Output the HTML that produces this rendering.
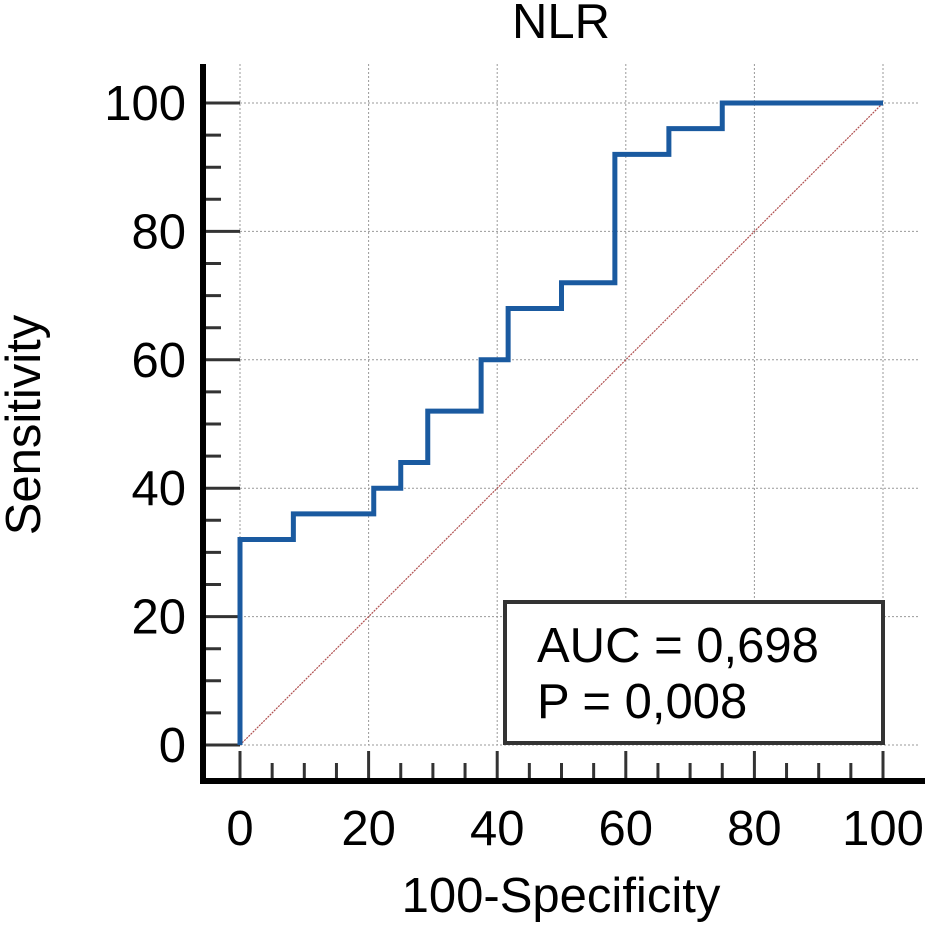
<!DOCTYPE html>
<html><head><meta charset="utf-8"><style>
body{margin:0;background:#fff;}
svg{display:block;font-family:"Liberation Sans",sans-serif;}
</style></head><body>
<svg width="925" height="925" viewBox="0 0 925 925">
<g id="grid"></g>
<g id="ticks"></g>
<line x1="203" y1="64" x2="203" y2="784" stroke="#000" stroke-width="6"/>
<line x1="200" y1="781" x2="925" y2="781" stroke="#000" stroke-width="6"/>
<line id="diag" stroke="#b05050" stroke-width="1.2" stroke-dasharray="2,1"/>
<path id="roc" fill="none" stroke="#1a5aa0" stroke-width="5"/>
<text x="561" y="38" font-size="49" text-anchor="middle">NLR</text>
<text x="561" y="912" font-size="49" text-anchor="middle">100-Specificity</text>
<text transform="translate(40,425) rotate(-90)" font-size="49" text-anchor="middle">Sensitivity</text>
<g>
<rect x="505" y="602" width="378" height="141" fill="#fff" stroke="#333" stroke-width="4"/>
<text x="537" y="662" font-size="49">AUC = 0,698</text>
<text x="537" y="718" font-size="49">P = 0,008</text>
</g>
</svg>
<script>
const rocX=[0,0,8.3,8.3,20.8,20.8,25,25,29.2,29.2,37.5,37.5,41.7,41.7,50,50,58.3,58.3,66.7,66.7,75,75,100];
const rocY=[0,32,32,36,36,40,40,44,44,52,52,60,60,68,68,72,72,92,92,96,96,100,100];
const tickLabels=[0,20,40,60,80,100];
const sx=v=>240+v*6.43, sy=v=>745-v*6.42;
const NS="http://www.w3.org/2000/svg";
function mk(t,a,p){const e=document.createElementNS(NS,t);for(const k in a)e.setAttribute(k,a[k]);p.appendChild(e);return e;}
const grid=document.getElementById('grid'),ticks=document.getElementById('ticks'),svg=document.querySelector('svg');
tickLabels.forEach(v=>{
 let g1=mk('line',{x1:sx(v),x2:sx(v),y1:64,y2:745,stroke:'#999','stroke-width':1,'stroke-dasharray':'2,2'},grid);
 
 
 let g2=mk('line',{x1:240,x2:920,y1:sy(v),y2:sy(v),stroke:'#999','stroke-width':1,'stroke-dasharray':'2,2'},grid);
 
 
 let tx=mk('text',{x:sx(v),y:845,'font-size':49,'text-anchor':'middle'},svg);tx.textContent=v;
 
 
 let ty=mk('text',{x:186,y:sy(v)+17,'font-size':49,'text-anchor':'end'},svg);ty.textContent=v;
 
 
});
for(let v=0;v<=100;v+=5){
 const maj=v%20===0;
 let a=mk('line',{x1:sx(v),x2:sx(v),y1:maj?751:763,y2:781,stroke:'#333','stroke-width':3},ticks);
 
 
 let b=mk('line',{x1:203,x2:maj?240:221,y1:sy(v),y2:sy(v),stroke:'#333','stroke-width':3},ticks);
 
 
}
const d=document.getElementById('diag');
d.setAttribute('x1',sx(0));d.setAttribute('y1',sy(0));d.setAttribute('x2',sx(100));d.setAttribute('y2',sy(100));
document.getElementById('roc').setAttribute('d',rocX.map((x,i)=>(i?'L':'M')+sx(x)+','+sy(rocY[i])).join(''));
</script>
</body></html>
